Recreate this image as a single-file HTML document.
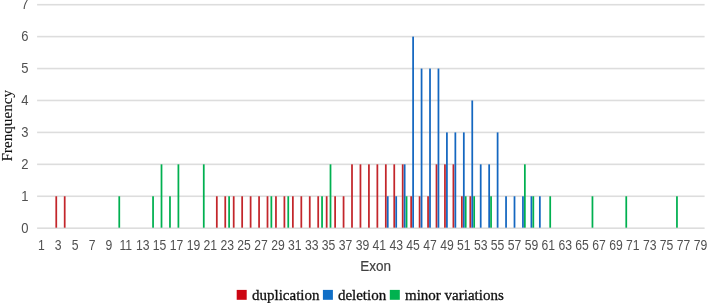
<!DOCTYPE html>
<html><head><meta charset="utf-8"><style>
html,body{margin:0;padding:0;background:#fff;}
body{width:708px;height:303px;overflow:hidden;position:relative;}
svg{position:absolute;left:0;top:0;will-change:transform;}
.yl{font-family:"Liberation Sans",sans-serif;font-size:14px;fill:#505050;text-anchor:end;}
.xl{font-family:"Liberation Sans",sans-serif;font-size:14px;fill:#505050;text-anchor:middle;}
.ax{font-family:"Liberation Sans",sans-serif;font-size:15.5px;fill:#404040;stroke:#404040;stroke-width:0.2px;}
.lg{font-family:"Liberation Serif",serif;font-size:15px;fill:#111;stroke:#111;stroke-width:0.3px;}
</style></head><body>
<svg width="708" height="303" viewBox="0 0 708 303">
<rect x="37.1" y="227.40" width="667.5" height="1.6" fill="#DDDDDD"/>
<rect x="37.1" y="195.47" width="667.5" height="1.6" fill="#DDDDDD"/>
<rect x="37.1" y="163.54" width="667.5" height="1.6" fill="#DDDDDD"/>
<rect x="37.1" y="131.61" width="667.5" height="1.6" fill="#DDDDDD"/>
<rect x="37.1" y="99.68" width="667.5" height="1.6" fill="#DDDDDD"/>
<rect x="37.1" y="67.75" width="667.5" height="1.6" fill="#DDDDDD"/>
<rect x="37.1" y="35.82" width="667.5" height="1.6" fill="#DDDDDD"/>
<rect x="37.1" y="3.89" width="667.5" height="1.6" fill="#DDDDDD"/>
<rect x="55.38" y="196.27" width="1.75" height="31.43" fill="#C3262B"/>
<rect x="63.83" y="196.27" width="1.75" height="31.43" fill="#C3262B"/>
<rect x="215.94" y="196.27" width="1.75" height="31.43" fill="#C3262B"/>
<rect x="224.38" y="196.27" width="1.75" height="31.43" fill="#C3262B"/>
<rect x="232.83" y="196.27" width="1.75" height="31.43" fill="#C3262B"/>
<rect x="241.28" y="196.27" width="1.75" height="31.43" fill="#C3262B"/>
<rect x="249.74" y="196.27" width="1.75" height="31.43" fill="#C3262B"/>
<rect x="258.19" y="196.27" width="1.75" height="31.43" fill="#C3262B"/>
<rect x="266.63" y="196.27" width="1.75" height="31.43" fill="#C3262B"/>
<rect x="275.08" y="196.27" width="1.75" height="31.43" fill="#C3262B"/>
<rect x="283.53" y="196.27" width="1.75" height="31.43" fill="#C3262B"/>
<rect x="291.99" y="196.27" width="1.75" height="31.43" fill="#C3262B"/>
<rect x="300.44" y="196.27" width="1.75" height="31.43" fill="#C3262B"/>
<rect x="308.88" y="196.27" width="1.75" height="31.43" fill="#C3262B"/>
<rect x="317.33" y="196.27" width="1.75" height="31.43" fill="#C3262B"/>
<rect x="325.79" y="196.27" width="1.75" height="31.43" fill="#C3262B"/>
<rect x="334.24" y="196.27" width="1.75" height="31.43" fill="#C3262B"/>
<rect x="342.69" y="196.27" width="1.75" height="31.43" fill="#C3262B"/>
<rect x="351.13" y="164.34" width="1.75" height="63.36" fill="#C3262B"/>
<rect x="359.58" y="164.34" width="1.75" height="63.36" fill="#C3262B"/>
<rect x="368.04" y="164.34" width="1.75" height="63.36" fill="#C3262B"/>
<rect x="376.49" y="164.34" width="1.75" height="63.36" fill="#C3262B"/>
<rect x="384.94" y="164.34" width="1.75" height="63.36" fill="#C3262B"/>
<rect x="393.38" y="164.34" width="1.75" height="63.36" fill="#C3262B"/>
<rect x="401.83" y="164.34" width="1.75" height="63.36" fill="#C3262B"/>
<rect x="410.28" y="196.27" width="1.75" height="31.43" fill="#C3262B"/>
<rect x="418.74" y="196.27" width="1.75" height="31.43" fill="#C3262B"/>
<rect x="427.19" y="196.27" width="1.75" height="31.43" fill="#C3262B"/>
<rect x="435.63" y="164.34" width="1.75" height="63.36" fill="#C3262B"/>
<rect x="444.08" y="164.34" width="1.75" height="63.36" fill="#C3262B"/>
<rect x="452.53" y="164.34" width="1.75" height="63.36" fill="#C3262B"/>
<rect x="460.99" y="196.27" width="1.75" height="31.43" fill="#C3262B"/>
<rect x="469.44" y="196.27" width="1.75" height="31.43" fill="#C3262B"/>
<rect x="386.88" y="196.27" width="1.75" height="31.43" fill="#1467C0"/>
<rect x="395.33" y="196.27" width="1.75" height="31.43" fill="#1467C0"/>
<rect x="403.78" y="164.34" width="1.75" height="63.36" fill="#1467C0"/>
<rect x="412.23" y="36.62" width="1.75" height="191.08" fill="#1467C0"/>
<rect x="420.69" y="68.55" width="1.75" height="159.15" fill="#1467C0"/>
<rect x="429.13" y="68.55" width="1.75" height="159.15" fill="#1467C0"/>
<rect x="437.58" y="68.55" width="1.75" height="159.15" fill="#1467C0"/>
<rect x="446.03" y="132.41" width="1.75" height="95.29" fill="#1467C0"/>
<rect x="454.48" y="132.41" width="1.75" height="95.29" fill="#1467C0"/>
<rect x="462.94" y="132.41" width="1.75" height="95.29" fill="#1467C0"/>
<rect x="471.38" y="100.48" width="1.75" height="127.22" fill="#1467C0"/>
<rect x="479.83" y="164.34" width="1.75" height="63.36" fill="#1467C0"/>
<rect x="488.28" y="164.34" width="1.75" height="63.36" fill="#1467C0"/>
<rect x="496.73" y="132.41" width="1.75" height="95.29" fill="#1467C0"/>
<rect x="505.18" y="196.27" width="1.75" height="31.43" fill="#1467C0"/>
<rect x="513.63" y="196.27" width="1.75" height="31.43" fill="#1467C0"/>
<rect x="522.08" y="196.27" width="1.75" height="31.43" fill="#1467C0"/>
<rect x="530.53" y="196.27" width="1.75" height="31.43" fill="#1467C0"/>
<rect x="538.98" y="196.27" width="1.75" height="31.43" fill="#1467C0"/>
<rect x="118.39" y="196.27" width="1.75" height="31.43" fill="#00B050"/>
<rect x="152.18" y="196.27" width="1.75" height="31.43" fill="#00B050"/>
<rect x="160.63" y="164.34" width="1.75" height="63.36" fill="#00B050"/>
<rect x="169.09" y="196.27" width="1.75" height="31.43" fill="#00B050"/>
<rect x="177.53" y="164.34" width="1.75" height="63.36" fill="#00B050"/>
<rect x="202.89" y="164.34" width="1.75" height="63.36" fill="#00B050"/>
<rect x="228.23" y="196.27" width="1.75" height="31.43" fill="#00B050"/>
<rect x="270.48" y="196.27" width="1.75" height="31.43" fill="#00B050"/>
<rect x="287.38" y="196.27" width="1.75" height="31.43" fill="#00B050"/>
<rect x="321.18" y="196.27" width="1.75" height="31.43" fill="#00B050"/>
<rect x="329.63" y="164.34" width="1.75" height="63.36" fill="#00B050"/>
<rect x="405.68" y="196.27" width="1.75" height="31.43" fill="#00B050"/>
<rect x="464.83" y="196.27" width="1.75" height="31.43" fill="#00B050"/>
<rect x="473.28" y="196.27" width="1.75" height="31.43" fill="#00B050"/>
<rect x="490.18" y="196.27" width="1.75" height="31.43" fill="#00B050"/>
<rect x="523.98" y="164.34" width="1.75" height="63.36" fill="#00B050"/>
<rect x="532.43" y="196.27" width="1.75" height="31.43" fill="#00B050"/>
<rect x="549.33" y="196.27" width="1.75" height="31.43" fill="#00B050"/>
<rect x="591.58" y="196.27" width="1.75" height="31.43" fill="#00B050"/>
<rect x="625.38" y="196.27" width="1.75" height="31.43" fill="#00B050"/>
<rect x="676.08" y="196.27" width="1.75" height="31.43" fill="#00B050"/>
<text transform="translate(28.6,232.70) scale(0.93,1)" x="0" y="0" class="yl">0</text>
<text transform="translate(28.6,200.77) scale(0.93,1)" x="0" y="0" class="yl">1</text>
<text transform="translate(28.6,168.84) scale(0.93,1)" x="0" y="0" class="yl">2</text>
<text transform="translate(28.6,136.91) scale(0.93,1)" x="0" y="0" class="yl">3</text>
<text transform="translate(28.6,104.98) scale(0.93,1)" x="0" y="0" class="yl">4</text>
<text transform="translate(28.6,73.05) scale(0.93,1)" x="0" y="0" class="yl">5</text>
<text transform="translate(28.6,41.12) scale(0.93,1)" x="0" y="0" class="yl">6</text>
<text transform="translate(28.6,9.19) scale(0.93,1)" x="0" y="0" class="yl">7</text>
<text transform="translate(41.31,250) scale(0.87,1)" x="0" y="0" class="xl">1</text>
<text transform="translate(58.21,250) scale(0.87,1)" x="0" y="0" class="xl">3</text>
<text transform="translate(75.11,250) scale(0.87,1)" x="0" y="0" class="xl">5</text>
<text transform="translate(92.01,250) scale(0.87,1)" x="0" y="0" class="xl">7</text>
<text transform="translate(108.91,250) scale(0.87,1)" x="0" y="0" class="xl">9</text>
<text transform="translate(125.81,250) scale(0.87,1)" x="0" y="0" class="xl">11</text>
<text transform="translate(142.71,250) scale(0.87,1)" x="0" y="0" class="xl">13</text>
<text transform="translate(159.61,250) scale(0.87,1)" x="0" y="0" class="xl">15</text>
<text transform="translate(176.51,250) scale(0.87,1)" x="0" y="0" class="xl">17</text>
<text transform="translate(193.41,250) scale(0.87,1)" x="0" y="0" class="xl">19</text>
<text transform="translate(210.31,250) scale(0.87,1)" x="0" y="0" class="xl">21</text>
<text transform="translate(227.21,250) scale(0.87,1)" x="0" y="0" class="xl">23</text>
<text transform="translate(244.11,250) scale(0.87,1)" x="0" y="0" class="xl">25</text>
<text transform="translate(261.01,250) scale(0.87,1)" x="0" y="0" class="xl">27</text>
<text transform="translate(277.91,250) scale(0.87,1)" x="0" y="0" class="xl">29</text>
<text transform="translate(294.81,250) scale(0.87,1)" x="0" y="0" class="xl">31</text>
<text transform="translate(311.71,250) scale(0.87,1)" x="0" y="0" class="xl">33</text>
<text transform="translate(328.61,250) scale(0.87,1)" x="0" y="0" class="xl">35</text>
<text transform="translate(345.51,250) scale(0.87,1)" x="0" y="0" class="xl">37</text>
<text transform="translate(362.41,250) scale(0.87,1)" x="0" y="0" class="xl">39</text>
<text transform="translate(379.31,250) scale(0.87,1)" x="0" y="0" class="xl">41</text>
<text transform="translate(396.21,250) scale(0.87,1)" x="0" y="0" class="xl">43</text>
<text transform="translate(413.11,250) scale(0.87,1)" x="0" y="0" class="xl">45</text>
<text transform="translate(430.01,250) scale(0.87,1)" x="0" y="0" class="xl">47</text>
<text transform="translate(446.91,250) scale(0.87,1)" x="0" y="0" class="xl">49</text>
<text transform="translate(463.81,250) scale(0.87,1)" x="0" y="0" class="xl">51</text>
<text transform="translate(480.71,250) scale(0.87,1)" x="0" y="0" class="xl">53</text>
<text transform="translate(497.61,250) scale(0.87,1)" x="0" y="0" class="xl">55</text>
<text transform="translate(514.51,250) scale(0.87,1)" x="0" y="0" class="xl">57</text>
<text transform="translate(531.41,250) scale(0.87,1)" x="0" y="0" class="xl">59</text>
<text transform="translate(548.31,250) scale(0.87,1)" x="0" y="0" class="xl">61</text>
<text transform="translate(565.21,250) scale(0.87,1)" x="0" y="0" class="xl">63</text>
<text transform="translate(582.11,250) scale(0.87,1)" x="0" y="0" class="xl">65</text>
<text transform="translate(599.01,250) scale(0.87,1)" x="0" y="0" class="xl">67</text>
<text transform="translate(615.91,250) scale(0.87,1)" x="0" y="0" class="xl">69</text>
<text transform="translate(632.81,250) scale(0.87,1)" x="0" y="0" class="xl">71</text>
<text transform="translate(649.71,250) scale(0.87,1)" x="0" y="0" class="xl">73</text>
<text transform="translate(666.61,250) scale(0.87,1)" x="0" y="0" class="xl">75</text>
<text transform="translate(683.51,250) scale(0.87,1)" x="0" y="0" class="xl">77</text>
<text transform="translate(700.41,250) scale(0.87,1)" x="0" y="0" class="xl">79</text>
<text x="360.3" y="270.9" class="ax" textLength="30.8" lengthAdjust="spacingAndGlyphs">Exon</text>
<text class="lg" style="font-size:15.2px;stroke-width:0.1px" transform="translate(11.5,161.6) rotate(-90)" x="0" y="0">Frenquency</text>
<rect x="236.7" y="289.9" width="10" height="9.9" fill="#CC0612"/>
<text x="252" y="299.9" class="lg">duplication</text>
<rect x="322.9" y="289.9" width="10" height="9.9" fill="#0F6EC6"/>
<text x="337.9" y="299.9" class="lg">deletion</text>
<rect x="389.8" y="289.9" width="10" height="9.9" fill="#00B24F"/>
<text x="405" y="299.9" class="lg">minor variations</text>
</svg>
</body></html>
